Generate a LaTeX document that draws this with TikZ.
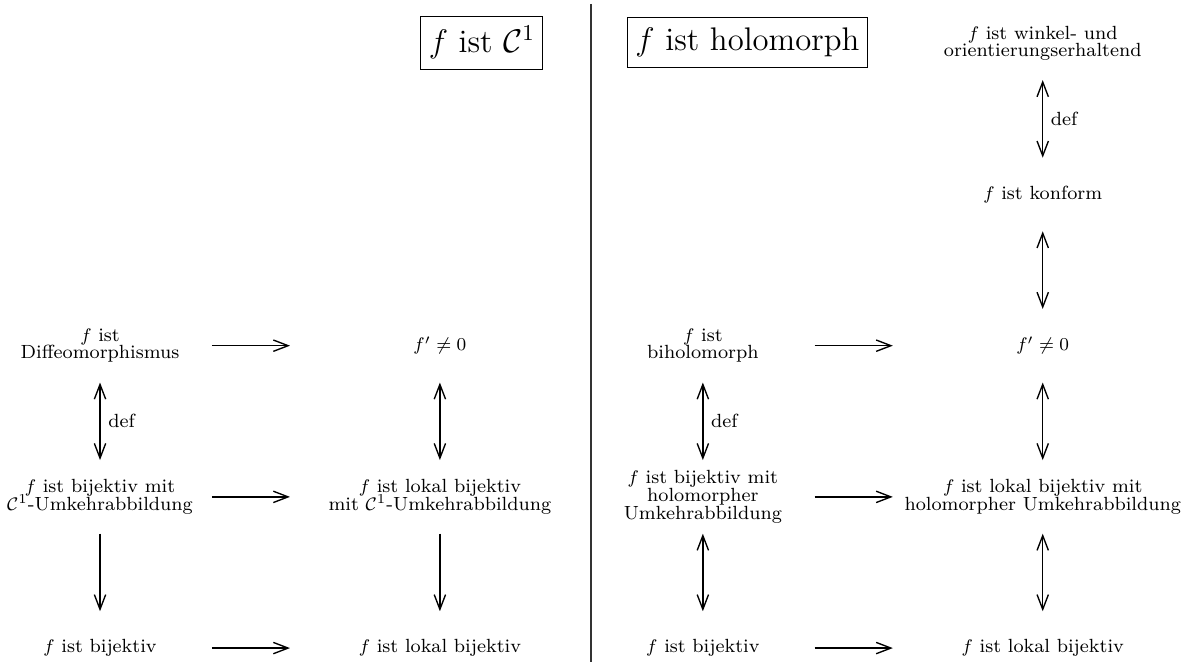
\documentclass[tikz,border=0pt]{standalone}
\usepackage{amsmath}
\usepackage{amssymb}
\usetikzlibrary{positioning,arrows.meta}

\begin{document}
\begin{tikzpicture}[
        node distance=23.4mm and 52.6mm, on grid,
        every node/.style={font={\fontsize{8.4}{7.8}\selectfont\lineskiplimit=-10pt\relax}, align=center},
        title/.style={draw, font=\Large, inner xsep=3.5pt, inner ysep=4.5pt},
        impl/.style={-{Straight Barb[length=6.5pt,width=5pt]}, semithick},
        equiv/.style={{Straight Barb[length=6.5pt,width=5pt]}-{Straight Barb[length=6.5pt,width=5pt]}, semithick},
        hor/.style={shorten <=17.3mm, shorten >=23.2mm},
        ver/.style={shorten <=5.7mm, shorten >=5.7mm}
    ]
        \useasboundingbox (-1.548,-0.217) rectangle (16.73,10.03);

        % C^1 side
        \node (bijA) at (0,0) {$f$ ist bijektiv};
        \node[right=of bijA] (lbijB) {$f$ ist lokal bijektiv};
        \node[above=of bijA] (umkA) {$f$ ist bijektiv mit\\$\mathcal{C}^1$-Umkehrabbildung};
        \node[above=of lbijB] (lumkB) {$f$ ist lokal bijektiv\\mit $\mathcal{C}^1$-Umkehrabbildung};
        \node[above=of umkA] (diffA) {$f$ ist\\Diffeomorphismus};
        \node[above=of lumkB] (fpB) {$f' \neq 0$};
        \node[title] (cone) at (5.91,9.37) {$f$ ist $\mathcal{C}^1$};

        % holomorph side
        \node[right=93.3mm of bijA] (bijC) {$f$ ist bijektiv};
        \node[right=of bijC] (lbijD) {$f$ ist lokal bijektiv};
        \node[above=of bijC] (umkC) {$f$ ist bijektiv mit\\holomorpher\\Umkehrabbildung};
        \node[above=of lbijD] (lumkD) {$f$ ist lokal bijektiv mit\\holomorpher Umkehrabbildung};
        \node[above=of umkC] (biholC) {$f$ ist\\biholomorph};
        \node[above=of lumkD] (fpD) {$f' \neq 0$};
        \node[above=of fpD] (konf) {$f$ ist konform};
        \node[above=of konf] (winkel) {$f$ ist winkel- und\\orientierungserhaltend};
        \node[title] (holo) at (10.02,9.37) {$f$ ist holomorph};

        \coordinate (divtop) at (7.60,9.97);
        \coordinate (divbot) at (7.60,-0.217);
        \draw[semithick, black!80] (divtop) -- (divbot);

        \draw[impl, hor] (diffA.center) -- (fpB.center);
        \draw[impl, hor] (umkA.center) -- (lumkB.center);
        \draw[impl, hor] (bijA.center) -- (lbijB.center);
        \draw[impl, hor] (biholC.center) -- (fpD.center);
        \draw[impl, hor] (umkC.center) -- (lumkD.center);
        \draw[impl, hor] (bijC.center) -- (lbijD.center);

        \draw[equiv, ver] (diffA.center) -- node[right] {def} (umkA.center);
        \draw[impl, ver] (umkA.center) -- (bijA.center);
        \draw[equiv, ver] (fpB.center) -- (lumkB.center);
        \draw[impl, ver] (lumkB.center) -- (lbijB.center);
        \draw[equiv, ver] (biholC.center) -- node[right] {def} (umkC.center);
        \draw[equiv, ver] (umkC.center) -- (bijC.center);
        \draw[equiv, ver] (winkel.center) -- node[right] {def} (konf.center);
        \draw[equiv, ver] (konf.center) -- (fpD.center);
        \draw[equiv, ver] (fpD.center) -- (lumkD.center);
        \draw[equiv, ver] (lumkD.center) -- (lbijD.center);
    \end{tikzpicture}
\end{document}
